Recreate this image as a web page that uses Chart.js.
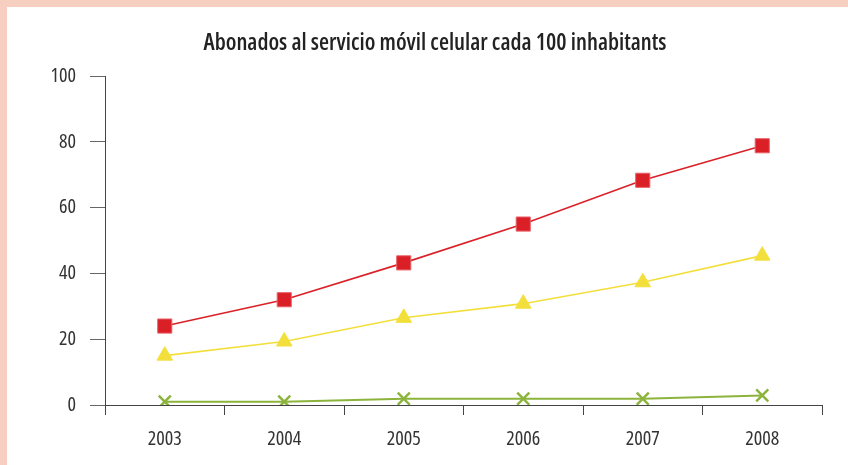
<!DOCTYPE html>
<html>
<head>
<meta charset="utf-8">
<script src="https://cdn.jsdelivr.net/npm/chart.js@4/dist/chart.umd.min.js"></script>
<style>
  body { margin: 0; background: #fff; }
  #wrap { position: relative; width: 848px; height: 465px; }
  #edgeLeft { position: absolute; left: 0; top: 0; width: 7px; height: 465px; background: #f6cfc1; }
  #edgeTop { position: absolute; left: 0; top: 0; width: 848px; height: 7px; background: #f6cfc1; }
</style>
</head>
<body>
<div id="wrap">
  <canvas id="chart" width="848" height="465"></canvas>
  <div id="edgeLeft"></div>
  <div id="edgeTop"></div>
</div>
<script>
const years = ["2003", "2004", "2005", "2006", "2007", "2008"];
const redSeries = [24, 32, 43.2, 55, 68.3, 78.8];
const yellowSeries = [15, 19.3, 26.5, 30.8, 37.3, 45.4];
const greenSeries = [1, 1, 1.9, 1.9, 1.9, 2.9];
const yTicks = [0, 20, 40, 60, 80, 100];

// "condensed" goes into the weight slot so the canvas font string picks the narrow Open Sans
const font = "'Open Sans', 'DejaVu Sans Condensed', sans-serif";

new Chart(document.getElementById("chart"), {
    type: "line",
    data: {
        labels: years,
        datasets: [{
            data: greenSeries,
            borderColor: "#8cb43c",
            backgroundColor: "#8cb43c",
            borderWidth: 2,
            pointStyle: "crossRot",
            pointRadius: 8.5,
            pointBorderWidth: 2.5,
            pointBorderColor: "#8cb43c"
        }, {
            data: yellowSeries,
            borderColor: "#f3df3c",
            backgroundColor: "#f3df3c",
            borderWidth: 1.6,
            pointStyle: "triangle",
            pointRadius: 9,
            pointBorderWidth: 1,
            pointBorderColor: "#f3df3c"
        }, {
            data: redSeries,
            borderColor: "#da2128",
            backgroundColor: "#da1f26",
            borderWidth: 1.6,
            pointStyle: "rect",
            pointRadius: 10,
            pointBorderWidth: 1,
            pointBorderColor: "#e8636a"
        }]
    },
    options: {
        responsive: false,
        animation: false,
        layout: { padding: { left: 48, right: 26, top: 0, bottom: 0 } },
        plugins: {
            legend: { display: false },
            tooltip: { enabled: false },
            title: {
                display: true,
                text: "Abonados al servicio móvil celular cada 100 inhabitants",
                color: "#222",
                font: { family: font, size: 23, weight: "600 condensed", lineHeight: 1.2 },
                padding: { top: 29.2, bottom: 19.2 }
            }
        },
        scales: {
            x: {
                offset: true,
                grid: { offset: true, drawOnChartArea: false, tickLength: 10, color: "#444" },
                border: { color: "#444" },
                ticks: { color: "#333", font: { family: font, size: 20, weight: "condensed" }, padding: 12 },
                afterFit: scale => { scale.height = 60; }
            },
            y: {
                min: 0,
                max: 100,
                afterBuildTicks: scale => { scale.ticks = yTicks.map(v => ({ value: v })); },
                grid: { drawOnChartArea: false, tickLength: 15, color: "#666" },
                border: { color: "#444" },
                ticks: { color: "#333", font: { family: font, size: 20, weight: "condensed" }, padding: 14 },
                afterFit: scale => { scale.width = 57; }
            }
        }
    }
});
</script>
</body>
</html>
